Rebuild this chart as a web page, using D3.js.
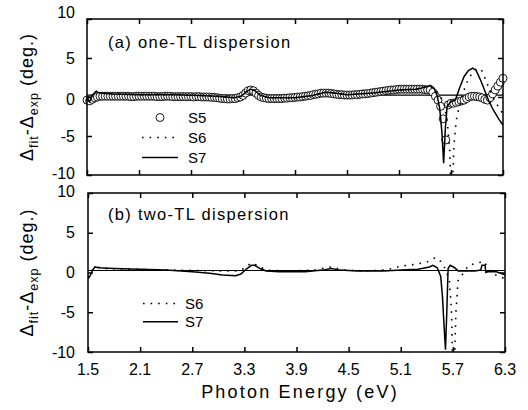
<!DOCTYPE html>
<html>
<head>
<meta charset="utf-8">
<script src="https://cdn.jsdelivr.net/npm/d3@7"></script>
<style>
  body { margin: 0; background: #fff; }
  svg { display: block; }
  text { font-family: Arial, "Liberation Sans", sans-serif; fill: #000; }
</style>
</head>
<body>
<svg id="chart" width="528" height="410"></svg>
<script>
// tick values
const xTicks = [1.5, 2.1, 2.7, 3.3, 3.9, 4.5, 5.1, 5.7, 6.3];
const yTicks = [-10, -5, 0, 5, 10];

// S5 (circles, panel a) sampled every 0.03 eV from 1.5 eV
const s5Start = 1.5, s5Step = 0.03;
const s5Values = [
  -0.4, -0.5, -0.3, -0.1, 0.0, 0.1, 0.1, 0.1, 0.1, 0.1,
  0.1, 0.1, 0.1, 0.1, 0.1, 0.1, 0.1, 0.05, 0.05, 0.1,
  0.1, 0.1, 0.1, 0.1, 0.1, 0.1, 0.1, 0.05, 0.05, 0.05,
  0.1, 0.1, 0.1, 0.05, 0.05, 0.05, 0.05, 0.05, 0.05, 0.05,
  0.05, 0.0, 0.05, 0.05, 0.0, 0.0, 0.0, 0.0, -0.05, -0.05,
  -0.1, -0.15, -0.2, -0.2, -0.25, -0.25, -0.2, -0.2, -0.1, 0.0,
  0.2, 0.5, 0.8, 0.9, 0.8, 0.5, 0.2, 0.0, -0.1, -0.15,
  -0.2, -0.2, -0.2, -0.2, -0.2, -0.2, -0.15, -0.15, -0.1, -0.1,
  -0.05, 0.0, 0.0, 0.05, 0.1, 0.15, 0.2, 0.3, 0.35, 0.4,
  0.5, 0.5, 0.5, 0.5, 0.45, 0.4, 0.35, 0.3, 0.3, 0.25,
  0.25, 0.25, 0.25, 0.3, 0.3, 0.35, 0.4, 0.4, 0.45, 0.5,
  0.55, 0.6, 0.65, 0.7, 0.75, 0.8, 0.85, 0.9, 0.9, 0.95,
  1.0, 1.0, 1.0, 1.0, 1.0, 1.0, 1.0, 1.0, 1.0, 1.0,
  0.95, 0.9, 0.9, 0.6, 0.1, -0.4, -1.2, -2.8, -5.5, -1.0,
  -0.8, -0.8, -0.7, -0.6, -0.5, -0.4, -0.2, 0.0, 0.1, 0.1,
  0.05, 0.0, -0.1, -0.3, -0.4, -0.1, 0.4, 0.9, 1.4, 1.9,
  2.4
];

// panel a lines [eV, deg]
const s6a = [
  [1.5, -0.3], [1.53, -0.5], [1.56, 0.2], [1.6, 0.8], [1.65, 0.5], [1.8, 0.4],
  [2.1, 0.3], [2.5, 0.3], [2.8, 0.2], [3.0, 0.1], [3.2, -0.1], [3.28, 0.1],
  [3.34, 0.7], [3.39, 1.0], [3.44, 0.8], [3.5, 0.2], [3.6, -0.1], [3.9, -0.1],
  [4.1, 0.2], [4.25, 0.6], [4.35, 0.5], [4.5, 0.3], [4.8, 0.5], [5.1, 0.9],
  [5.3, 1.0], [5.45, 1.4], [5.52, 1.0], [5.58, 0.0], [5.63, -1.2], [5.66, -3.5],
  [5.685, -7], [5.695, -10.5], [5.72, -10.5], [5.735, -6], [5.76, -3],
  [5.79, -1.5], [5.83, 0.2], [5.88, 1.8], [5.93, 2.8], [5.98, 3.5], [6.02, 3.7],
  [6.06, 3.3], [6.1, 2.2], [6.15, 0.8], [6.2, -0.4], [6.25, -1.3], [6.3, -2.2]
];
const s7a = [
  [1.5, -0.3], [1.53, -0.6], [1.56, 0.2], [1.6, 0.7], [1.65, 0.5], [1.8, 0.4],
  [2.1, 0.3], [2.5, 0.3], [2.8, 0.2], [3.0, 0.1], [3.2, -0.1], [3.28, 0.1],
  [3.34, 0.7], [3.39, 1.0], [3.44, 0.8], [3.5, 0.2], [3.6, -0.1], [3.9, -0.1],
  [4.1, 0.2], [4.25, 0.6], [4.35, 0.5], [4.5, 0.3], [4.8, 0.5], [5.1, 0.9],
  [5.3, 1.0], [5.42, 1.3], [5.46, 1.5], [5.5, 1.2], [5.54, 0.2], [5.57, -1.5],
  [5.595, -4.5], [5.615, -8.5], [5.635, -4], [5.655, -1.2], [5.7, -0.6],
  [5.75, -0.4], [5.8, 1.2], [5.85, 2.6], [5.9, 3.4], [5.95, 3.7], [5.99, 3.4],
  [6.04, 2.2], [6.09, 0.8], [6.14, -0.6], [6.19, -1.7], [6.25, -2.8], [6.3, -3.6]
];

// panel b lines [eV, deg]
const s6b = [
  [1.5, -0.6], [1.55, 0.3], [1.6, 0.7], [1.7, 0.5], [2.0, 0.4], [2.5, 0.3],
  [3.0, 0.2], [3.2, 0.2], [3.3, 0.5], [3.38, 1.2], [3.45, 0.9], [3.55, 0.3],
  [3.8, 0.2], [4.1, 0.3], [4.3, 0.7], [4.45, 0.3], [4.7, 0.2], [4.9, 0.3],
  [5.0, 0.5], [5.1, 0.8], [5.25, 1.0], [5.4, 1.3], [5.5, 1.9], [5.57, 1.3],
  [5.62, 0.3], [5.66, -1], [5.685, -5], [5.695, -10.5], [5.72, -10.5],
  [5.735, -5], [5.76, -1], [5.8, -0.4], [5.88, 0.9], [5.95, 1.1], [6.02, 1.3],
  [6.06, 1.4], [6.1, 0.6], [6.16, -0.2], [6.23, -0.45], [6.3, -0.8]
];
const s7b = [
  [1.5, -0.8], [1.52, -0.5], [1.55, 0.2], [1.58, 0.7], [1.62, 0.6], [1.8, 0.5],
  [2.1, 0.4], [2.4, 0.3], [2.7, 0.1], [2.9, -0.1], [3.05, -0.3], [3.2, -0.4],
  [3.26, -0.2], [3.32, 0.4], [3.38, 0.9], [3.42, 0.9], [3.48, 0.5], [3.55, 0.2],
  [3.7, 0.1], [4.0, 0.1], [4.2, 0.3], [4.3, 0.5], [4.4, 0.3], [4.6, 0.2],
  [4.9, 0.2], [5.1, 0.3], [5.3, 0.4], [5.43, 0.7], [5.47, 0.9], [5.52, 0.6],
  [5.56, -0.5], [5.58, -3], [5.6, -7], [5.615, -9.7], [5.63, -5], [5.645, 0.5],
  [5.67, 0.9], [5.72, 0.6], [5.76, 0.2], [5.85, 0.2], [5.95, 0.2], [6.02, 0.3],
  [6.035, 0.9], [6.07, 0.9], [6.08, 0.0], [6.1, 0.1], [6.2, 0.1], [6.3, -0.3]
];

const refLine = 0.25;

const svg = d3.select("#chart");

const panels = [
  {id: "a", left: 87, right: 503, top: 19, bottom: 175,
   title: "(a) one-TL dispersion", titleY: 48, nudge: {"10": -7, "0": 2, "-10": -2},
   lines: [s6a, s7a], circles: true},
  {id: "b", left: 88, right: 505, top: 193, bottom: 352,
   title: "(b) two-TL dispersion", titleY: 220, nudge: {"10": -2},
   lines: [s6b, s7b], circles: false}
];

panels.forEach(p => {
  let x = d3.scaleLinear().domain([1.5, 6.3]).range([p.left, p.right]);
  let y = d3.scaleLinear().domain([-10, 10]).range([p.bottom, p.top]);
  let g = svg.append("g");

  g.append("clipPath").attr("id", "clip-" + p.id)
    .append("rect")
    .attr("x", p.left).attr("y", p.top)
    .attr("width", p.right - p.left).attr("height", p.bottom - p.top);

  let plot = g.append("g").attr("clip-path", `url(#clip-${p.id})`);

  plot.append("line")
    .attr("x1", p.left).attr("x2", p.right)
    .attr("y1", y(refLine)).attr("y2", y(refLine))
    .attr("stroke", "#000").attr("stroke-width", 1.2);

  if (p.circles) {
    let pts = s5Values.map((v, i) => [s5Start + i * s5Step, v]);
    g.selectAll("circle.s5")
      .data(pts).enter()
      .append("circle")
      .attr("class", "s5")
      .attr("cx", d => x(d[0]))
      .attr("cy", d => y(d[1]))
      .attr("r", 4)
      .attr("fill", "#fff")
      .attr("stroke", "#000")
      .attr("stroke-width", 0.9);
  }

  let line_gen = d3.line().x(d => x(d[0])).y(d => y(d[1]));
  let lines = g.append("g").attr("clip-path", `url(#clip-${p.id})`);

  lines.append("path")
    .attr("d", line_gen(p.lines[0]))
    .attr("fill", "none").attr("stroke", "#000")
    .attr("stroke-width", 1.6)
    .attr("stroke-dasharray", "1.6,6");

  lines.append("path")
    .attr("d", line_gen(p.lines[1]))
    .attr("fill", "none").attr("stroke", "#000")
    .attr("stroke-width", 1.5);

  // ticks on all four sides, pointing inward
  g.append("g").attr("transform", `translate(0,${p.bottom})`)
    .call(d3.axisBottom(x).tickValues(xTicks).tickSize(-5).tickFormat(""));
  g.append("g").attr("transform", `translate(0,${p.top})`)
    .call(d3.axisTop(x).tickValues(xTicks).tickSize(-5).tickFormat(""));
  g.append("g").attr("transform", `translate(${p.left},0)`)
    .call(d3.axisLeft(y).tickValues(yTicks).tickSize(-5).tickFormat(""));
  g.append("g").attr("transform", `translate(${p.right},0)`)
    .call(d3.axisRight(y).tickValues(yTicks).tickSize(-5).tickFormat(""));
  g.selectAll(".domain").remove();
  g.selectAll(".tick line").attr("stroke", "#000").attr("stroke-width", 1.5);

  g.append("rect")
    .attr("x", p.left).attr("y", p.top)
    .attr("width", p.right - p.left).attr("height", p.bottom - p.top)
    .attr("fill", "none").attr("stroke", "#000").attr("stroke-width", 1.5);

  // y tick labels
  g.selectAll("text.ylab")
    .data(yTicks).enter()
    .append("text")
    .attr("class", "ylab")
    .attr("x", 75)
    .attr("y", d => y(d) + 5.7 + (p.nudge[String(d)] || 0))
    .attr("text-anchor", "end")
    .attr("font-size", 16)
    .text(d => d);

  // panel title
  g.append("text")
    .attr("x", 108).attr("y", p.titleY)
    .attr("font-size", 16.5)
    .attr("letter-spacing", 1.3)
    .text(p.title);

  // y axis title
  let yt = g.append("text")
    .attr("transform", `translate(33,${(p.top + p.bottom) / 2}) rotate(-90)`)
    .attr("text-anchor", "middle")
    .attr("font-size", 18)
    .attr("letter-spacing", 1);
  yt.append("tspan").text("\u0394");
  yt.append("tspan").attr("dy", 5).attr("font-size", 12.5).text("fit");
  yt.append("tspan").attr("dy", -5).text("-\u0394");
  yt.append("tspan").attr("dy", 5).attr("font-size", 12.5).text("exp");
  yt.append("tspan").attr("dy", -5).text(" (deg.)");

  if (p.id == "b") {
    g.selectAll("text.xlab")
      .data(xTicks).enter()
      .append("text")
      .attr("class", "xlab")
      .attr("x", d => x(d))
      .attr("y", 375)
      .attr("text-anchor", "middle")
      .attr("font-size", 16)
      .text(d => d.toFixed(1));
  }
});

// legends
let leg = svg.append("g").attr("font-size", 15);
leg.append("circle").attr("cx", 160).attr("cy", 117.5).attr("r", 4)
  .attr("fill", "#fff").attr("stroke", "#000").attr("stroke-width", 0.9);
leg.append("text").attr("x", 188).attr("y", 122.8).text("S5");
leg.append("line").attr("x1", 142).attr("x2", 178).attr("y1", 137.5).attr("y2", 137.5)
  .attr("stroke", "#000").attr("stroke-width", 1.6).attr("stroke-dasharray", "1.6,6");
leg.append("text").attr("x", 188).attr("y", 142.8).text("S6");
leg.append("line").attr("x1", 142).attr("x2", 178).attr("y1", 157.5).attr("y2", 157.5)
  .attr("stroke", "#000").attr("stroke-width", 1.5);
leg.append("text").attr("x", 188).attr("y", 162.8).text("S7");

leg.append("line").attr("x1", 143).attr("x2", 178).attr("y1", 303.5).attr("y2", 303.5)
  .attr("stroke", "#000").attr("stroke-width", 1.6).attr("stroke-dasharray", "1.6,6");
leg.append("text").attr("x", 185).attr("y", 308.8).text("S6");
leg.append("line").attr("x1", 143).attr("x2", 178).attr("y1", 321.7).attr("y2", 321.7)
  .attr("stroke", "#000").attr("stroke-width", 1.5);
leg.append("text").attr("x", 185).attr("y", 327).text("S7");

// x axis title
svg.append("text")
  .attr("x", 300).attr("y", 398)
  .attr("text-anchor", "middle")
  .attr("font-size", 18)
  .attr("letter-spacing", 2.2)
  .text("Photon Energy (eV)");
</script>
</body>
</html>
